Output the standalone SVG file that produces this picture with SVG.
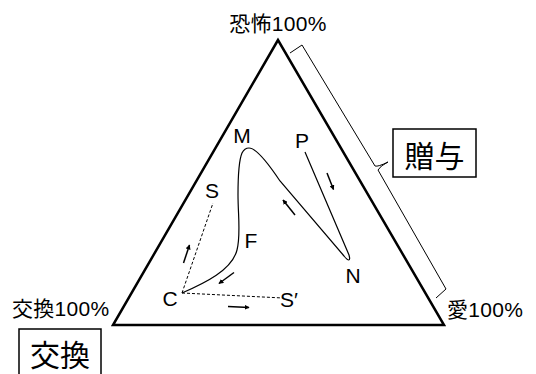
<svg xmlns="http://www.w3.org/2000/svg" width="536" height="374" viewBox="0 0 536 374">
<defs>
<marker id="ah" viewBox="0 0 8 8" refX="7" refY="4" markerWidth="5" markerHeight="5" orient="auto" markerUnits="userSpaceOnUse">
<path d="M0,0 L8,4 L0,8 Z" fill="#000"/>
</marker>
<style>
.t{font-family:"Liberation Sans","Noto Sans CJK JP",sans-serif;fill:#000}
.lbl{font-size:21px;text-anchor:middle}
.pct{font-size:21px;letter-spacing:0.3px}
.big{font-size:30px;text-anchor:middle}
.tri{fill:none;stroke:#000;stroke-width:2.5;stroke-linejoin:miter}
.thin{fill:none;stroke:#000;stroke-width:1.2}
.dash{fill:none;stroke:#000;stroke-width:1;stroke-dasharray:3,2}
.arr{fill:none;stroke:#000;stroke-width:1.5;marker-end:url(#ah)}
.box{fill:#fff;stroke:#000;stroke-width:1.5}
</style>
</defs>
<g id="triangle">
<polygon class="tri" points="278,40 113,325 444,325"/>
</g>
<g id="bracket">
<path class="thin" d="M290,53 L302,45 L375,166 Q378,167 388,162 Q380,166 378,170 L446,289 L436,298" style="stroke-width:1"/>
</g>
<g id="connectors">
<path class="thin" d="M182,293 C205,283 232,270 237,250 C241,235 238,215 238,195 C238,175 239,160 242,153 C244,149 246,148 249,148 C256,148 266,160 280,181 L344,256 C348,261 351,262 349,255 L305,152"/>
<line class="dash" x1="182" y1="293" x2="213" y2="203"/>
<line class="dash" x1="182" y1="293" x2="283" y2="298"/>
<line class="arr" x1="327" y1="173" x2="333.5" y2="189.5"/>
<line class="arr" x1="295" y1="215" x2="283" y2="200"/>
<line class="arr" x1="234" y1="272.5" x2="219" y2="283.5"/>
<line class="arr" x1="183.5" y1="263" x2="189.5" y2="245"/>
<line class="arr" x1="228" y1="306.5" x2="249" y2="307.5"/>
</g>
<g id="label-top"><text class="t pct" x="278" y="31" text-anchor="middle">恐怖100%</text></g>
<g id="label-left"><text class="t pct" x="12" y="316">交換100%</text></g>
<g id="label-right"><text class="t pct" x="447" y="317">愛100%</text></g>
<g id="node-M"><text class="t lbl" x="242" y="143">M</text></g>
<g id="node-P"><text class="t lbl" x="302" y="148">P</text></g>
<g id="node-S"><text class="t lbl" x="212" y="198">S</text></g>
<g id="node-F"><text class="t lbl" x="251" y="248">F</text></g>
<g id="node-C"><text class="t lbl" x="170" y="306">C</text></g>
<g id="node-S2"><text class="t lbl" x="289" y="307" text-anchor="start">S′</text></g>
<g id="node-N"><text class="t lbl" x="353" y="283">N</text></g>
<g id="box-zoyo">
<rect class="box" x="393" y="129" width="83" height="48"/>
<text class="t big" x="434.5" y="167">贈与</text>
</g>
<g id="box-kokan">
<rect class="box" x="19" y="329" width="82" height="50"/>
<text class="t big" x="60" y="366">交換</text>
</g>
</svg>
